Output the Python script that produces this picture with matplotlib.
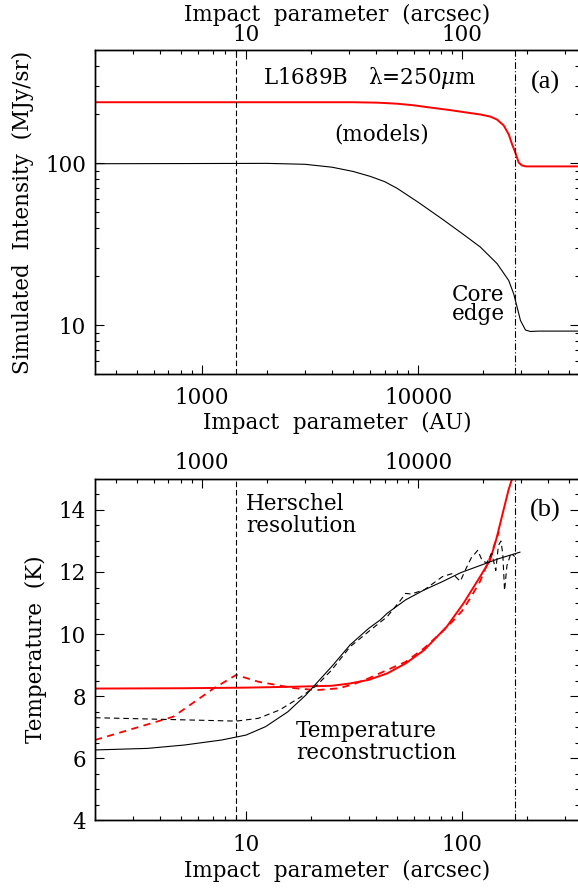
import matplotlib
matplotlib.use('Agg')
import matplotlib.pyplot as plt
from matplotlib.ticker import LogLocator, NullFormatter, FuncFormatter, MultipleLocator

plt.rcParams['font.family'] = 'DejaVu Serif'
plt.rcParams['mathtext.fontset'] = 'dejavuserif'

AU_PER_ARCSEC = 160.0

# panel (a): simulated 250 micron intensity vs impact parameter (AU)
au_black = [321, 1000, 2000, 3000, 4000, 5000, 6000, 7000, 8000, 10000, 13000,
            16000, 19400, 23200, 26250, 27700, 28730, 29760, 31400, 33100, 36000, 55500]
int_black = [99.3, 99.6, 99.8, 98.5, 94.5, 89.0, 83.0, 77.0, 70.0, 57.5, 45.0,
             36.8, 30.4, 24.0, 18.9, 15.6, 12.9, 10.7, 9.34, 9.15, 9.2, 9.2]
au_red = [321, 5000, 6500, 8000, 9500, 11000, 14000, 17000, 19400, 21600, 23200, 24900,
          26300, 27100, 28200, 29200, 30200, 31500, 55500]
int_red = [238, 238, 236.5, 233, 228, 222, 213, 205, 200, 194, 186, 171,
           150, 133, 116, 101, 97, 95.6, 95.6]

# panel (b): temperature vs impact parameter (arcsec)
as_red = [2, 5, 10, 16.8, 24.9, 30, 36.9, 45, 54.7, 66.6, 84.9, 101.4, 121,
          134.8, 144.8, 155.3, 163.8, 170, 174]
t_red = [8.24, 8.25, 8.27, 8.30, 8.33, 8.40, 8.52, 8.73, 9.05, 9.48, 10.24, 10.99,
         11.85, 12.39, 13.14, 14.0, 14.65, 15.0, 15.3]
as_red_rec = [2, 4.6, 7.1, 9.0, 11.4, 16.8, 21.3, 27, 32, 36.9, 45, 54.7, 66.6,
              81, 90, 100, 110, 121, 135, 148]
t_red_rec = [6.58, 7.33, 8.25, 8.68, 8.46, 8.25, 8.19, 8.25, 8.40, 8.57, 8.84, 9.1,
             9.54, 10.08, 10.4, 10.75, 11.2, 11.7, 12.5, 13.3]
as_black = [2, 3.5, 5.2, 7.7, 10, 12.3, 15.6, 18.9, 22.2, 24.9, 30.3, 36.9, 41.7,
            45, 54.7, 66.6, 81, 98.5, 120, 146, 185]
t_black = [6.26, 6.31, 6.42, 6.58, 6.74, 7.01, 7.49, 8.03, 8.57, 8.95, 9.65, 10.18,
           10.45, 10.67, 11.1, 11.42, 11.69, 11.98, 12.2, 12.42, 12.64]
as_black_rec = [2, 5.2, 9.0, 11.4, 14.3, 18, 21.3, 24.9, 30.3, 36.9, 45, 49, 52,
                54.7, 58, 66.6, 81, 90, 98, 104, 110, 118, 124, 130, 137, 143, 147,
                151, 154, 157, 161, 168, 175]
t_black_rec = [7.30, 7.23, 7.19, 7.28, 7.55, 7.98, 8.35, 8.84, 9.59, 10.08, 10.56,
               10.88, 11.1, 11.31, 11.29, 11.42, 11.85, 11.95, 11.7, 12.1, 12.45,
               12.7, 12.35, 12.3, 12.6, 12.05, 12.85, 13.0, 12.6, 11.4, 12.2, 12.6, 12.5]

resolution_as = 9.0
core_edge_as = 175.0
xlim_as = (2.0, 347.0)

FS = 15.5
int_fmt = FuncFormatter(lambda v, p: '%d' % round(v))


def style_log_x(axis):
    axis.set_major_locator(LogLocator(base=10))
    axis.set_minor_locator(LogLocator(base=10, subs=range(2, 10)))
    axis.set_major_formatter(int_fmt)
    axis.set_minor_formatter(NullFormatter())


def ticks(ax):
    ax.tick_params(which='both', direction='in', width=0.8, labelsize=FS)
    ax.tick_params(which='major', length=6.5)
    ax.tick_params(which='minor', length=3.2)
    for s in ax.spines.values():
        s.set_linewidth(1.0)


fig = plt.figure(figsize=(5.78, 8.88), dpi=100)
W, H = 578.0, 888.0
ax1 = fig.add_axes([95 / W, 1 - 374 / H, (579 - 95) / W, (374 - 50) / H])
ax2 = fig.add_axes([95 / W, 1 - 820 / H, (579 - 95) / W, (820 - 479) / H])

# ---- panel (a)
ax1.plot(au_red, int_red, color='#ff0000', lw=1.4)
ax1.plot(au_black, int_black, color='black', lw=0.8)
ax1.axvline(resolution_as * AU_PER_ARCSEC, color='black', lw=0.8, dashes=(5, 2.5))
ax1.axvline(core_edge_as * AU_PER_ARCSEC, color='black', lw=0.8, dashes=(6, 2, 1, 2))
ax1.set_xscale('log')
ax1.set_yscale('log')
ax1.set_xlim(xlim_as[0] * AU_PER_ARCSEC, xlim_as[1] * AU_PER_ARCSEC)
ax1.set_ylim(5, 500)
style_log_x(ax1.xaxis)
ax1.yaxis.set_major_formatter(int_fmt)
ax1.yaxis.set_minor_formatter(NullFormatter())
ticks(ax1)
ax1.tick_params(axis='x', which='both', top=False, pad=9.5)
ax1.tick_params(axis='y', which='both', right=True, pad=6.5)
ax1.set_xlabel('Impact  parameter  (AU)', fontsize=FS, labelpad=2)
ax1.set_ylabel('Simulated  Intensity  (MJy/sr)', fontsize=FS, labelpad=8)

ax1t = ax1.twiny()
ax1t.set_xscale('log')
ax1t.set_xlim(*xlim_as)
style_log_x(ax1t.xaxis)
ticks(ax1t)
ax1t.tick_params(axis='x', pad=2.8)
ax1t.set_xlabel('Impact  parameter  (arcsec)', fontsize=FS, labelpad=2.5)

ax1.text(0.568, 0.914, 'L1689B   λ=250$\\mu$m', transform=ax1.transAxes,
         fontsize=FS, ha='center', va='center')
ax1.text(0.593, 0.738, '(models)', transform=ax1.transAxes,
         fontsize=FS, ha='center', va='center')
ax1.text(0.737, 0.2145, 'Core\nedge', transform=ax1.transAxes, fontsize=FS,
         ha='left', va='center', linespacing=0.85)
ax1.text(0.930, 0.901, '(a)', transform=ax1.transAxes, fontsize=19,
         family='Liberation Serif', ha='center', va='center')

# ---- panel (b)
ax2.plot(as_red, t_red, color='#ff0000', lw=1.4)
ax2.plot(as_red_rec, t_red_rec, color='#ff0000', lw=1.3, dashes=(4, 3))
ax2.plot(as_black, t_black, color='black', lw=0.8)
ax2.plot(as_black_rec, t_black_rec, color='black', lw=0.8, dashes=(5, 3.5))
ax2.axvline(resolution_as, color='black', lw=0.8, dashes=(5, 2.5))
ax2.axvline(core_edge_as, color='black', lw=0.8, dashes=(6, 2, 1, 2))
ax2.set_xscale('log')
ax2.set_xlim(*xlim_as)
ax2.set_ylim(4, 15)
style_log_x(ax2.xaxis)
ax2.yaxis.set_major_locator(MultipleLocator(2))
ax2.yaxis.set_minor_locator(MultipleLocator(0.5))
ticks(ax2)
ax2.tick_params(axis='x', which='both', top=False, pad=10)
ax2.tick_params(axis='y', which='both', right=True, pad=6.5)
ax2.set_xlabel('Impact  parameter  (arcsec)', fontsize=FS, labelpad=3)
ax2.set_ylabel('Temperature  (K)', fontsize=FS, labelpad=8)

ax2t = ax2.twiny()
ax2t.set_xscale('log')
ax2t.set_xlim(xlim_as[0] * AU_PER_ARCSEC, xlim_as[1] * AU_PER_ARCSEC)
style_log_x(ax2t.xaxis)
ticks(ax2t)
ax2t.tick_params(axis='x', pad=3.5)

ax2.text(0.312, 0.895, 'Herschel\nresolution', transform=ax2.transAxes,
         fontsize=FS, ha='left', va='center', linespacing=1.0)
ax2.text(0.415, 0.230, 'Temperature\nreconstruction', transform=ax2.transAxes,
         fontsize=FS, ha='left', va='center', linespacing=1.0)
ax2.text(0.930, 0.907, '(b)', transform=ax2.transAxes, fontsize=19,
         family='Liberation Serif', ha='center', va='center')

fig.savefig('out.png', dpi=100)
